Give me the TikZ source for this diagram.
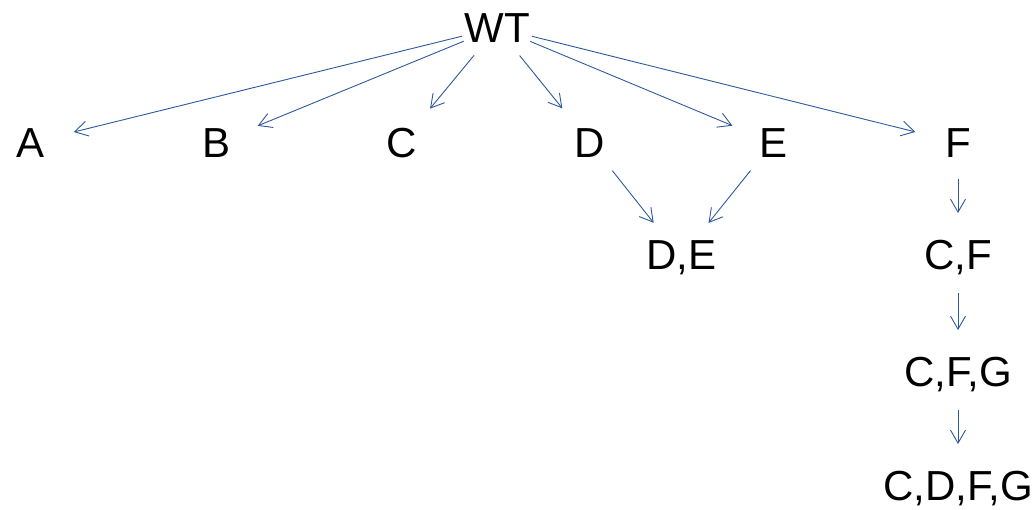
\documentclass[tikz,border=0pt]{standalone}
\usepackage{fontspec}
\setmainfont{Liberation Sans}
\usepackage{tikz}
\usetikzlibrary{arrows.meta}
\definecolor{treeBlue}{RGB}{44,88,156}

\begin{document}
\begin{tikzpicture}[x=1pt,y=-1pt,
  lbl/.style={anchor=base,inner sep=0pt,font=\fontsize{42}{50}\selectfont},
  edge/.style={treeBlue,line width=0.9pt,-{Straight Barb[length=13pt,width=15pt]},
    shorten <=36pt,shorten >=44pt}]
\useasboundingbox (0,0) rectangle (1035,509);
% top and first row
\node[lbl] (wt) at (497,42) {WT};
\node[lbl] (a) at (31,157) {A};
\node[lbl] (b) at (217,157) {B};
\node[lbl] (c) at (402,157) {C};
\node[lbl] (d) at (590,157) {D};
\node[lbl] (e) at (773,157) {E};
\node[lbl] (f) at (958,157) {F};
% combined mutants
\node[lbl] (de) at (681,269) {D,E};
\node[lbl] (cf) at (958,269) {C,F};
\node[lbl] (cfg) at (958,386) {C,F,G};
\node[lbl] (cdfg) at (958,500) {C,D,F,G};
\foreach \t in {a,b,c,d,e,f}
  \draw[edge] (wt.center) -- (\t.center);
\draw[edge] (d.center) -- (de.center);
\draw[edge] (e.center) -- (de.center);
\draw[edge] (f.center) -- (cf.center);
\draw[edge] (cf.center) -- (cfg.center);
\draw[edge] (cfg.center) -- (cdfg.center);
\end{tikzpicture}
\end{document}
